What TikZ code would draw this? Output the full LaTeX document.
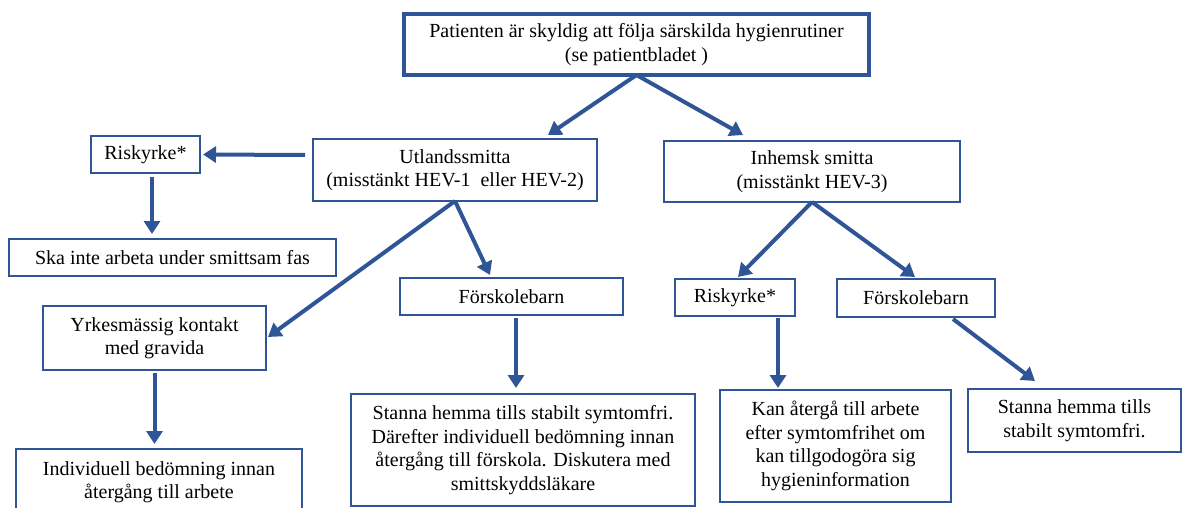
\documentclass[tikz,border=0pt]{standalone}
\usepackage{fontspec}
\setmainfont{Liberation Serif}
\usetikzlibrary{arrows.meta,calc}
\definecolor{hevblue}{RGB}{47,85,151}
\tikzset{
    ruta/.style={
        rectangle,
        draw=hevblue,
        line width=2pt,
        inner sep=0pt,
        outer sep=0pt,
        align=center,
        font=\fontsize{20}{23.5}\selectfont,
    },
    huvud/.style={
        ruta,
        line width=4pt,
    },
    every edge/.style={
        draw=hevblue,
        line width=4pt,
        -{Triangle[length=13pt,width=16pt]},
    },
  }

\begin{document}
\begin{tikzpicture}[x=1pt,y=-1pt]
              \useasboundingbox (0,0) rectangle (1183,508);
              \node [huvud, minimum width=465pt, minimum height=61pt] (top) at (636.5,44.5) {Patienten är skyldig att följa särskilda hygienrutiner\\(se patientbladet )};
              \node [ruta, minimum width=284pt, minimum height=62pt] (utl) at (455,170) {Utlandssmitta\\(misstänkt HEV-1\ \ eller HEV-2)};
              \node [ruta, minimum width=296pt, minimum height=61pt] (inh) at (812,171.5) {Inhemsk smitta\\(misstänkt HEV-3)};
              \node [ruta, minimum width=109pt, minimum height=37pt] (rk1) at (145.5,154.5) {Riskyrke*};
              \node [ruta, minimum width=327pt, minimum height=37pt] (ska) at (172.5,257.5) {Ska inte arbeta under smittsam fas};
              \node [ruta, minimum width=223pt, minimum height=37pt] (fb1) at (511.5,296.5) {Förskolebarn};
              \node [ruta, minimum width=223pt, minimum height=64pt] (yrk) at (154.5,338) {Yrkesmässig kontakt\\med gravida};
              \node [ruta, minimum width=286pt, minimum height=66pt] (ind) at (159,482) {Individuell bedömning innan\\återgång till arbete};
              \node [ruta, minimum width=344pt, minimum height=112pt] (stanna1) at (523,450) {Stanna hemma tills stabilt symtomfri.\\Därefter individuell bedömning innan\\återgång till förskola. Diskutera med\\smittskyddsläkare};
              \node [ruta, minimum width=120pt, minimum height=37pt] (rk2) at (735,297.5) {Riskyrke*};
              \node [ruta, minimum width=158pt, minimum height=38pt] (fb2) at (916,298) {Förskolebarn};
              \node [ruta, minimum width=231pt, minimum height=112pt] (kan) at (835.5,446) {Kan återgå till arbete\\efter symtomfrihet om\\kan tillgodogöra sig\\hygieninformation};
              \node [ruta, minimum width=213pt, minimum height=63pt] (stanna2) at (1074.5,420.5) {Stanna hemma tills\\stabilt symtomfri.};

              \draw (top.south) edge ($(utl.north)+(93,-4)$);
              \draw (top.south) edge ($(inh.north)+(-69,-6)$);
              \draw ($(utl.west)+(-8,-15)$) edge ($(rk1.east)+(3,0)$);
              \draw ($(rk1.south)+(6.5,4)$) edge ($(ska.north)+(-20.5,-5)$);
              \draw (utl.south) edge ($(yrk.east)+(2,-1)$);
              \draw (utl.south) edge ($(fb1.north)+(-21.5,-3)$);
              \draw ($(yrk.south)+(0,3)$) edge ($(ind.north)+(-4.5,-5)$);
              \draw ($(fb1.south)+(4.5,3)$) edge ($(stanna1.north)+(-7,-6)$);
              \draw (inh.south) edge ($(rk2.north)+(3,-2)$);
              \draw (inh.south) edge ($(fb2.north)+(-1,-2)$);
              \draw ($(rk2.south)+(43,2)$) edge ($(kan.north)+(-57.5,-2)$);
              \draw ($(fb2.south)+(37,2)$) edge ($(stanna2.north)+(-39.5,-8)$);
            \end{tikzpicture}
\end{document}
